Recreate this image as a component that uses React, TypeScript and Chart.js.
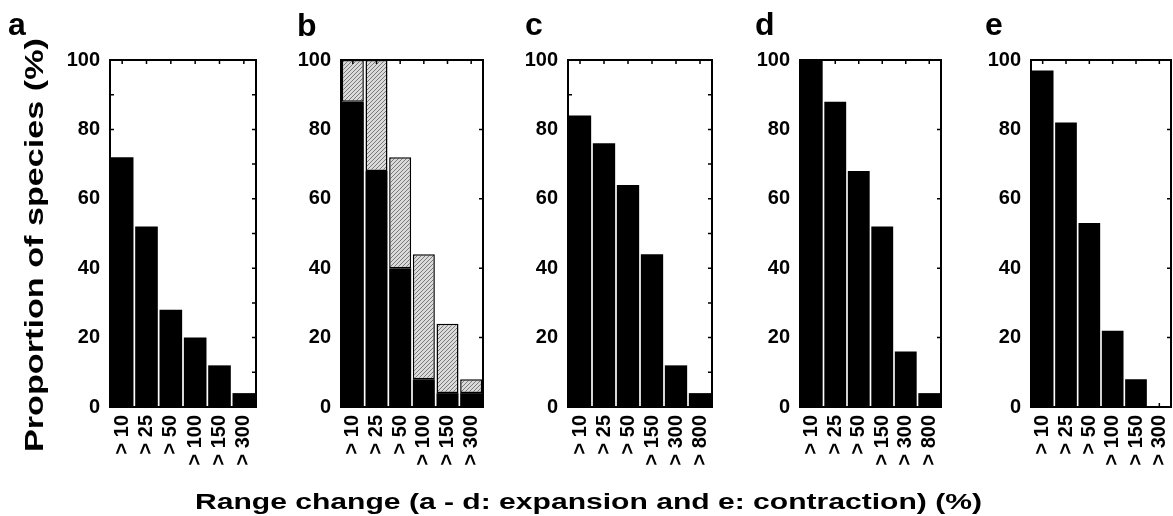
import React, { useEffect, useRef } from "react";
import { Chart, registerables } from "chart.js";

Chart.register(...registerables);

// ---------- data ----------
const categoriesAB = ["> 10", "> 25", "> 50", "> 100", "> 150", "> 300"];
const categoriesCD = ["> 10", "> 25", "> 50", "> 150", "> 300", "> 800"];
const categoriesE = ["> 10", "> 25", "> 50", "> 100", "> 150", "> 300"];

const valuesA = [72, 52, 28, 20, 12, 4];
const valuesBSolid = [88, 68, 40, 8, 4, 4];
const valuesBHatched = [12, 32, 32, 36, 20, 4];
const valuesC = [84, 76, 64, 44, 12, 4];
const valuesD = [100, 88, 68, 52, 16, 4];
const valuesE = [97, 82, 53, 22, 8, 0];

const yMin = 0;
const yMax = 100;
const yLabelStep = 20;

const yTitle = "Proportion of species (%)";
const xTitle = "Range change (a - d: expansion and e: contraction) (%)";

// ---------- layout ----------
const PLOT_TOP = 60;
const PLOT_BOTTOM = 407;
const LEFT_AXIS_W = 60;
const BOTTOM_AXIS_H = 70;
const PAD_TOP = 12;
const PAD_RIGHT = 2;
const FONT = "'Liberation Sans', Arial, sans-serif";

function makeHatch(): CanvasPattern | string {
  const c = document.createElement("canvas");
  c.width = 4;
  c.height = 4;
  const g = c.getContext("2d");
  if (!g) return "#bbb";
  g.fillStyle = "#dadada";
  g.fillRect(0, 0, 4, 4);
  g.strokeStyle = "#7a7a7a";
  g.lineWidth = 1;
  g.beginPath();
  g.moveTo(0, 4);
  g.lineTo(4, 0);
  g.moveTo(-1, 1);
  g.lineTo(1, -1);
  g.moveTo(3, 5);
  g.lineTo(5, 3);
  g.stroke();
  const p = g.createPattern(c, "repeat");
  return p || "#bbb";
}

const framePlugin = {
  id: "frame",
  afterDatasetsDraw(chart: any, _args: any, opts: any) {
    const { ctx, chartArea, scales } = chart;
    const { left, right, top, bottom } = chartArea;
    const x = scales.x;
    const y = scales.y;
    const step = opts.minorStep || 10;
    const len = 4;
    ctx.save();
    ctx.strokeStyle = "#000";
    ctx.lineWidth = 1.5;
    ctx.beginPath();
    for (let v = yMin + step; v < yMax; v += step) {
      const py = y.getPixelForValue(v);
      ctx.moveTo(right, py);
      ctx.lineTo(right - len, py);
      ctx.moveTo(left, py);
      ctx.lineTo(left + len, py);
    }
    const n = chart.data.labels.length;
    for (let i = 0; i < n; i++) {
      const px = x.getPixelForValue(i);
      ctx.moveTo(px, top);
      ctx.lineTo(px, top + len);
      ctx.moveTo(px, bottom);
      ctx.lineTo(px, bottom - len);
    }
    ctx.stroke();
    ctx.lineWidth = 2;
    ctx.strokeRect(left, top, right - left, bottom - top);
    ctx.restore();
  },
};

type PanelProps = {
  plotLeft: number;
  plotRight: number;
  labels: string[];
  kind: "solid" | "stacked";
  solid: number[];
  hatched?: number[];
  minorStep: number;
};

function Panel({ plotLeft, plotRight, labels, kind, solid, hatched, minorStep }: PanelProps) {
  const ref = useRef<HTMLCanvasElement | null>(null);
  const width = plotRight - plotLeft + LEFT_AXIS_W + PAD_RIGHT;
  const height = PLOT_BOTTOM - PLOT_TOP + PAD_TOP + BOTTOM_AXIS_H;

  useEffect(() => {
    if (!ref.current) return;
    const datasets: any[] = [
      {
        data: solid,
        backgroundColor: "#000",
        borderWidth: 0,
        barPercentage: 0.93,
        categoryPercentage: 1,
      },
    ];
    if (kind === "stacked" && hatched) {
      datasets.push({
        data: hatched,
        backgroundColor: makeHatch(),
        borderColor: "#000",
        borderWidth: 1.5,
        borderSkipped: false,
        barPercentage: 0.93,
        categoryPercentage: 1,
      });
    }
    const tickFont = { family: FONT, size: 20, weight: "bold" as const };
    const chart = new Chart(ref.current, {
      type: "bar",
      data: { labels, datasets },
      options: {
        animation: false,
        responsive: false,
        maintainAspectRatio: false,
        layout: { padding: { top: PAD_TOP, right: PAD_RIGHT, left: 0, bottom: 0 } },
        plugins: {
          legend: { display: false },
          tooltip: { enabled: false },
          title: { display: false },
          frame: { minorStep },
        } as any,
        scales: {
          x: {
            stacked: kind === "stacked",
            grid: { display: false, drawTicks: false },
            border: { display: false },
            ticks: {
              color: "#000",
              font: tickFont,
              minRotation: 90,
              maxRotation: 90,
              autoSkip: false,
              padding: 8,
            },
            afterFit: (s: any) => {
              s.height = BOTTOM_AXIS_H;
              s.paddingLeft = 0;
              s.paddingRight = 0;
            },
          },
          y: {
            stacked: kind === "stacked",
            min: yMin,
            max: yMax,
            grid: { display: false, drawTicks: false },
            border: { display: false },
            ticks: {
              stepSize: yLabelStep,
              color: "#000",
              font: tickFont,
              padding: 10,
            },
            afterFit: (s: any) => {
              s.width = LEFT_AXIS_W;
              s.paddingTop = 0;
              s.paddingBottom = 0;
            },
          },
        },
      },
      plugins: [framePlugin],
    });
    return () => chart.destroy();
  }, []);

  return (
    <div
      style={{
        position: "absolute",
        left: plotLeft - LEFT_AXIS_W,
        top: PLOT_TOP - PAD_TOP,
        width,
        height,
      }}
    >
      <canvas ref={ref} width={width} height={height} style={{ display: "block" }} />
    </div>
  );
}

export default function App() {
  return (
    <div
      style={{
        position: "absolute",
        left: 0,
        top: 0,
        width: 1173,
        height: 516,
        background: "#fff",
        overflow: "hidden",
      }}
    >
      <Panel plotLeft={110} plotRight={256} labels={categoriesAB} kind="solid" solid={valuesA} minorStep={10} />
      <Panel
        plotLeft={341}
        plotRight={483}
        labels={categoriesAB}
        kind="stacked"
        solid={valuesBSolid}
        hatched={valuesBHatched}
        minorStep={20}
      />
      <Panel plotLeft={568} plotRight={712} labels={categoriesCD} kind="solid" solid={valuesC} minorStep={10} />
      <Panel plotLeft={800} plotRight={941} labels={categoriesCD} kind="solid" solid={valuesD} minorStep={20} />
      <Panel plotLeft={1031} plotRight={1171} labels={categoriesE} kind="solid" solid={valuesE} minorStep={20} />
      <svg
        width={1173}
        height={516}
        style={{ position: "absolute", left: 0, top: 0, pointerEvents: "none" }}
        fontFamily={FONT}
        fontWeight="bold"
      >
        <text x={8} y={35} fontSize={32}>a</text>
        <text x={297} y={36} fontSize={32}>b</text>
        <text x={525} y={35} fontSize={32}>c</text>
        <text x={755} y={35} fontSize={32}>d</text>
        <text x={985} y={35} fontSize={32}>e</text>
        <text
          transform="translate(43,245) rotate(-90)"
          textAnchor="middle"
          fontSize={26}
          textLength={414}
          lengthAdjust="spacingAndGlyphs"
        >
          {yTitle}
        </text>
        <text x={195} y={509} fontSize={22} textLength={787} lengthAdjust="spacingAndGlyphs">
          {xTitle}
        </text>
      </svg>
    </div>
  );
}
